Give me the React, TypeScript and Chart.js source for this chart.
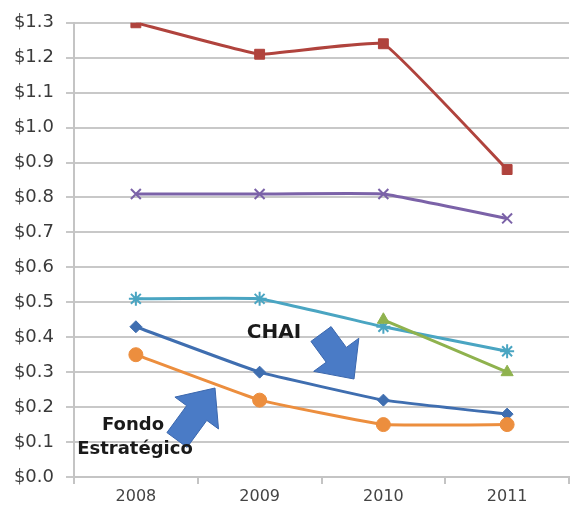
import React, { useEffect, useRef } from "react";
import { Chart, registerables } from "chart.js";

Chart.register(...registerables);

const years = ["2008", "2009", "2010", "2011"];
const redSeries = [1.3, 1.21, 1.24, 0.88];
const purpleSeries = [0.81, 0.81, 0.81, 0.74];
const cyanSeries = [0.51, 0.51, 0.43, 0.36];
const greenSeries = [null, null, 0.45, 0.3];
const blueSeries = [0.43, 0.3, 0.22, 0.18];
const orangeSeries = [0.35, 0.22, 0.15, 0.15];
const yMin = 0;
const yMax = 1.3;
const yStep = 0.1;

const annotations = [
  { text: "CHAI", x: 274, y: 338, size: 20 },
  { text: "Fondo", x: 133, y: 430, size: 18 },
  { text: "Estratégico", x: 135, y: 454, size: 18 },
];

const arrows = [
  { tail: [321, 334], tip: [354, 379], shaft: 25, headW: 56, headL: 30 },
  { tail: [177, 440], tip: [215, 388], shaft: 25, headW: 54, headL: 31 },
];

function drawArrow(ctx: CanvasRenderingContext2D, a: any) {
  const [tx, ty] = a.tail;
  const [px, py] = a.tip;
  const dx = px - tx;
  const dy = py - ty;
  const len = Math.sqrt(dx * dx + dy * dy);
  const ux = dx / len;
  const uy = dy / len;
  const nx = -uy;
  const ny = ux;
  const bx = px - ux * a.headL;
  const by = py - uy * a.headL;
  const s = a.shaft / 2;
  const h = a.headW / 2;
  ctx.beginPath();
  ctx.moveTo(tx + nx * s, ty + ny * s);
  ctx.lineTo(bx + nx * s, by + ny * s);
  ctx.lineTo(bx + nx * h, by + ny * h);
  ctx.lineTo(px, py);
  ctx.lineTo(bx - nx * h, by - ny * h);
  ctx.lineTo(bx - nx * s, by - ny * s);
  ctx.lineTo(tx - nx * s, ty - ny * s);
  ctx.closePath();
  ctx.fillStyle = "#4a7bc6";
  ctx.fill();
  ctx.strokeStyle = "#3b67ad";
  ctx.lineWidth = 1;
  ctx.stroke();
}

const annotationPlugin = {
  id: "annot",
  afterDraw(chart: any) {
    const ctx = chart.ctx as CanvasRenderingContext2D;
    ctx.save();
    arrows.forEach((a) => drawArrow(ctx, a));
    annotations.forEach((t) => {
      ctx.font = `bold ${t.size}px "DejaVu Sans"`;
      ctx.fillStyle = "#1a1a1a";
      ctx.textAlign = "center";
      ctx.textBaseline = "alphabetic";
      ctx.fillText(t.text, t.x, t.y);
    });
    ctx.restore();
  },
};

function ds(label: string, data: any[], color: string, style: string, radius: number, order: number) {
  return {
    label,
    data,
    borderColor: color,
    backgroundColor: color,
    pointBackgroundColor: color,
    pointBorderColor: color,
    pointStyle: style,
    pointRadius: radius,
    pointBorderWidth: style === "crossRot" || style === "star" ? 2 : 1,
    borderWidth: 3,
    tension: 0.08,
    spanGaps: false,
    order,
  };
}

export default function App() {
  const ref = useRef<HTMLCanvasElement | null>(null);
  useEffect(() => {
    document.body.style.margin = "0";
    const chart = new Chart(ref.current as HTMLCanvasElement, {
      type: "line",
      data: {
        labels: years,
        datasets: [
          ds("Red", redSeries, "#b0433d", "rect", 7, 5),
          ds("Purple", purpleSeries, "#7b62a8", "crossRot", 7, 4),
          ds("Cyan", cyanSeries, "#4aa5c2", "star", 7, 3),
          ds("Green", greenSeries, "#8fb24e", "triangle", 7, 0),
          ds("Blue", blueSeries, "#3f6eb0", "rectRot", 6, 2),
          ds("Orange", orangeSeries, "#ec8e3e", "circle", 7, 1),
        ] as any,
      },
      options: {
        animation: false,
        responsive: false,
        maintainAspectRatio: false,
        layout: { padding: { top: 21, left: 0, right: 0, bottom: 0 } },
        plugins: { legend: { display: false }, tooltip: { enabled: false } },
        scales: {
          x: {
            offset: true,
            grid: {
              display: true,
              offset: true,
              drawOnChartArea: false,
              drawTicks: true,
              tickLength: 7,
              color: "#c4c4c4",
              lineWidth: 2,
            },
            border: { display: true, color: "#c4c4c4", width: 2 },
            ticks: {
              color: "#444444",
              font: { family: "DejaVu Sans", size: 16 },
              padding: 3,
              maxRotation: 0,
            },
            afterFit(scale: any) {
              scale.height = 29;
            },
          },
          y: {
            min: yMin,
            max: yMax,
            grid: {
              color: "#c8c8c8",
              lineWidth: 2,
              drawTicks: true,
              tickLength: 8,
            },
            border: { display: true, color: "#c4c4c4", width: 2 },
            ticks: {
              stepSize: yStep,
              color: "#3a3a3a",
              font: { family: "DejaVu Sans", size: 18 },
              padding: 12,
              callback: (v: any) => "$" + Number(v).toFixed(1),
            },
            afterFit(scale: any) {
              scale.width = 74;
            },
          },
        },
      },
      plugins: [annotationPlugin],
    });
    return () => chart.destroy();
  }, []);
  return (
    <div style={{ width: 578, height: 506 }}>
      <canvas ref={ref} width={578} height={506} style={{ width: 578, height: 506 }} />
    </div>
  );
}
